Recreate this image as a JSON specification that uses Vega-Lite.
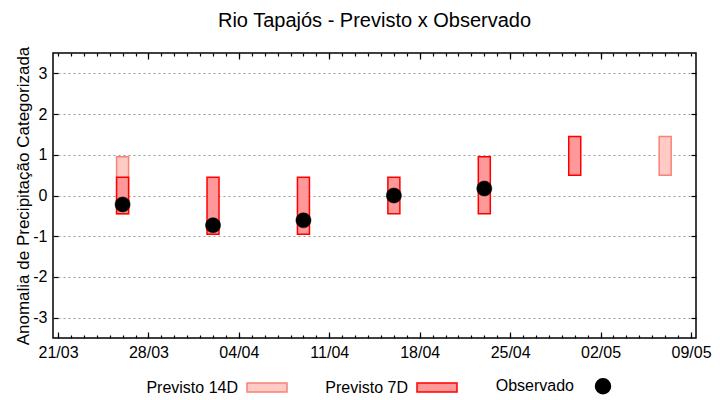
{
  "$schema": "https://vega.github.io/schema/vega-lite/v6.json",
  "width": 720,
  "height": 400,
  "autosize": {"type": "fit", "contains": "padding"},
  "padding": {"left": 14, "right": 8, "top": 17, "bottom": 3},
  "config": {
    "font": "Liberation Sans",
    "view": {"stroke": "black", "strokeWidth": 1.5},
    "axis": {"labelColor": "black", "titleColor": "black", "labelFontSize": 16, "domainColor": "black", "tickColor": "black", "titleFontWeight": "normal", "titleFontSize": 17, "tickWidth": 1.2},
    "legend": {"labelFontSize": 16, "labelColor": "black", "layout": {"bottom": {"anchor": "middle"}}}
  },
  "title": {"text": "Rio Tapajós - Previsto x Observado", "fontSize": 20, "fontWeight": "normal", "color": "black", "offset": 15, "font": "Liberation Sans"},
  "resolve": {"axis": {"x": "independent", "y": "independent"}},
  "datasets": {
    "prev": [
      {"date": "2024-03-26", "serie": "Previsto 14D", "min": -0.45, "max": 0.95},
      {"date": "2024-05-07", "serie": "Previsto 14D", "min": 0.5, "max": 1.45},
      {"date": "2024-03-26", "serie": "Previsto 7D", "min": -0.45, "max": 0.45},
      {"date": "2024-04-02", "serie": "Previsto 7D", "min": -0.95, "max": 0.45},
      {"date": "2024-04-09", "serie": "Previsto 7D", "min": -0.95, "max": 0.45},
      {"date": "2024-04-16", "serie": "Previsto 7D", "min": -0.45, "max": 0.45},
      {"date": "2024-04-23", "serie": "Previsto 7D", "min": -0.45, "max": 0.95},
      {"date": "2024-04-30", "serie": "Previsto 7D", "min": 0.5, "max": 1.45}
    ],
    "obs": [
      {"date": "2024-03-26", "serie": "Observado", "valor": -0.22},
      {"date": "2024-04-02", "serie": "Observado", "valor": -0.73},
      {"date": "2024-04-09", "serie": "Observado", "valor": -0.61},
      {"date": "2024-04-16", "serie": "Observado", "valor": 0.0},
      {"date": "2024-04-23", "serie": "Observado", "valor": 0.17}
    ]
  },
  "layer": [
    {
      "data": {"name": "prev"},
      "mark": {"type": "bar", "width": 12, "strokeWidth": 1.5},
      "encoding": {
        "x": {
          "field": "date", "type": "temporal",
          "scale": {"type": "utc", "domain": [{"year": 2024, "month": 3, "date": 21, "utc": true}, {"year": 2024, "month": 5, "date": 9, "utc": true}]},
          "axis": {
            "orient": "bottom", "title": null, "grid": false, "domain": false,
            "labelExpr": "utcFormat(datum.value, '%d/%m')",
            "values": [
              {"year": 2024, "month": 3, "date": 21, "utc": true},
              {"year": 2024, "month": 3, "date": 28, "utc": true},
              {"year": 2024, "month": 4, "date": 4, "utc": true},
              {"year": 2024, "month": 4, "date": 11, "utc": true},
              {"year": 2024, "month": 4, "date": 18, "utc": true},
              {"year": 2024, "month": 4, "date": 25, "utc": true},
              {"year": 2024, "month": 5, "date": 2, "utc": true},
              {"year": 2024, "month": 5, "date": 9, "utc": true}
            ],
            "offset": -6, "tickSize": 6, "labelPadding": 6, "labelFlush": false
          }
        },
        "y": {
          "field": "max", "type": "quantitative",
          "scale": {"domain": [-3.5, 3.5], "nice": false, "zero": false},
          "axis": {
            "orient": "left",
            "title": "Anomalia de Precipitação Categorizada",
            "values": [-3, -2, -1, 0, 1, 2, 3],
            "labelExpr": "datum.value < 0 ? '-' + abs(datum.value) : '' + datum.value",
            "grid": true, "gridDash": [2, 3], "gridColor": "#999999", "gridOpacity": 1,
            "domain": false, "offset": -5, "tickSize": 5, "labelPadding": 6, "titlePadding": 0
          }
        },
        "y2": {"field": "min"},
        "fill": {
          "field": "serie", "type": "nominal",
          "scale": {"domain": ["Previsto 14D", "Previsto 7D", "Observado"], "range": ["#ffcbc4", "#ff9999", "#000000"]},
          "legend": {"title": " "}
        },
        "stroke": {
          "field": "serie", "type": "nominal",
          "scale": {"domain": ["Previsto 14D", "Previsto 7D", "Observado"], "range": ["#f88378", "#ff0000", "#000000"]},
          "legend": {"title": " "}
        }
      }
    },
    {
      "data": {"name": "obs"},
      "mark": {"type": "point", "filled": true, "size": 1600, "opacity": 1, "strokeWidth": 0.5},
      "encoding": {
        "x": {"field": "date", "type": "temporal", "axis": null},
        "y": {"field": "valor", "type": "quantitative", "axis": null},
        "fill": {"field": "serie", "type": "nominal", "legend": {"title": " "}},
        "stroke": {"field": "serie", "type": "nominal", "legend": {"title": " "}},
        "shape": {
          "field": "serie", "type": "nominal",
          "scale": {"domain": ["Previsto 14D", "Previsto 7D", "Observado"], "range": ["M-1,-0.225H1V0.225H-1Z", "M-1,-0.225H1V0.225H-1Z", "M0,-0.375A0.375,0.375 0 1,1 0,0.375A0.375,0.375 0 1,1 0,-0.375Z"]},
          "legend": {
            "title": " ", "titleOrient": "left", "titlePadding": 110, "titleFontSize": 10,
            "orient": "bottom", "direction": "horizontal",
            "symbolSize": 1600, "symbolStrokeWidth": 1.5, "columnPadding": 35,
            "labelAlign": "right", "labelOffset": -50, "offset": 5
          }
        }
      }
    },
    {
      "data": {"name": "obs"},
      "mark": {"type": "point", "opacity": 0},
      "encoding": {
        "x": {
          "field": "date", "type": "temporal",
          "axis": {
            "orient": "top", "title": null, "labels": false, "grid": false, "domain": false,
            "values": [
              {"year": 2024, "month": 3, "date": 28, "utc": true},
              {"year": 2024, "month": 4, "date": 4, "utc": true},
              {"year": 2024, "month": 4, "date": 11, "utc": true},
              {"year": 2024, "month": 4, "date": 18, "utc": true},
              {"year": 2024, "month": 4, "date": 25, "utc": true},
              {"year": 2024, "month": 5, "date": 2, "utc": true}
            ],
            "offset": -6, "tickSize": 6
          }
        },
        "y": {
          "field": "valor", "type": "quantitative",
          "axis": {"orient": "right", "title": null, "labels": false, "grid": false, "domain": false, "values": [-3, -2, -1, 0, 1, 2, 3], "offset": -5, "tickSize": 5}
        }
      }
    },
    {
      "data": {"name": "obs"},
      "mark": {"type": "point", "opacity": 0},
      "encoding": {
        "x": {
          "field": "date", "type": "temporal",
          "axis": {"orient": "bottom", "title": null, "labels": false, "grid": false, "domain": false, "tickCount": {"interval": "day", "step": 1}, "offset": -3, "tickSize": 3}
        },
        "y": {"field": "valor", "type": "quantitative", "axis": null}
      }
    },
    {
      "data": {"name": "obs"},
      "mark": {"type": "point", "opacity": 0},
      "encoding": {
        "x": {
          "field": "date", "type": "temporal",
          "axis": {"orient": "top", "title": null, "labels": false, "grid": false, "domain": false, "tickCount": {"interval": "day", "step": 1}, "offset": -3, "tickSize": 3}
        },
        "y": {"field": "valor", "type": "quantitative", "axis": null}
      }
    }
  ]
}
